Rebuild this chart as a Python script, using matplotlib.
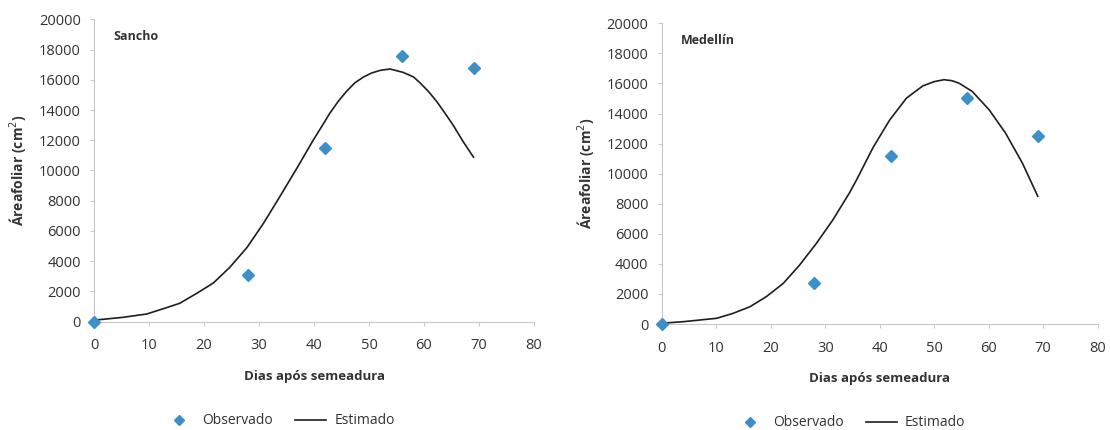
import matplotlib
matplotlib.use("Agg")
import matplotlib.pyplot as plt

plt.rcParams['font.family'] = ['Open Sans', 'DejaVu Sans']

# Observed leaf area (cm2) at sampling dates
obs_days = [0, 28, 42, 56, 69]
sancho_obs = [0, 3100, 11500, 17600, 16800]
medellin_obs = [0, 2700, 11200, 15000, 12500]

# Estimated (fitted) leaf area, Sancho
sancho_est_days = [0, 5.3, 9.6, 13.2, 15.6, 18.7, 21.7, 24.7, 27.8, 30.8, 33.8,
                   36.9, 39.9, 41.4, 42.9, 44.4, 45.9, 47.4, 49.0, 50.5, 52.0,
                   53.8, 56.2, 58.1, 59.3, 60.8, 62.3, 63.8, 65.3, 67.1, 69.0]
sancho_est = [100, 290, 510, 930, 1220, 1880, 2560, 3600, 4900, 6500, 8280,
              10160, 12030, 12910, 13800, 14570, 15230, 15790, 16185, 16450,
              16620, 16715, 16490, 16185, 15790, 15230, 14570, 13800, 13000,
              11920, 10880]

# Estimated (fitted) leaf area, Medellín
medellin_est_days = [0, 4.0, 10.1, 13.1, 16.2, 19.2, 22.3, 25.3, 28.4, 31.4,
                     34.5, 35.7, 38.8, 41.8, 44.9, 47.9, 50.0, 51.8, 53.3,
                     54.6, 57.0, 60.1, 63.1, 66.2, 69.0]
medellin_est = [50, 155, 380, 710, 1150, 1820, 2700, 3920, 5370, 6920,
                8750, 9550, 11750, 13550, 15020, 15835, 16120, 16250, 16180,
                16010, 15460, 14240, 12690, 10690, 8500]

x_ticks = [0, 10, 20, 30, 40, 50, 60, 70, 80]
y_ticks = [0, 2000, 4000, 6000, 8000, 10000, 12000, 14000, 16000, 18000, 20000]

panels = [
    ("Sancho", sancho_obs, sancho_est_days, sancho_est,
     [94 / 1110, 1 - 321.7 / 430, 440 / 1110, 302.4 / 430],
     (279 / 1110, 1 - 421 / 430)),
    ("Medellín", medellin_obs, medellin_est_days, medellin_est,
     [661.7 / 1110, 1 - 324 / 430, 436 / 1110, 300.7 / 430],
     (850 / 1110, 1 - 423 / 430)),
]

MARKER = "#3D8FC8"
TXT = "#333333"
AXC = "#c8c8c8"

fig = plt.figure(figsize=(11.1, 4.3), dpi=100)

for name, obs, est_days, est, rect, leg_pos in panels:
    ax = fig.add_axes(rect)
    ax.plot(obs_days, obs, linestyle="none", marker="D", markersize=6,
            color=MARKER, label="Observado", zorder=3, clip_on=False)
    ax.plot(est_days, est, color="#1e1e1e", linewidth=1.2, label="Estimado",
            zorder=2, solid_joinstyle="round")
    ax.set_xlim(0, 80)
    ax.set_ylim(0, 20000)
    ax.set_xticks(x_ticks)
    ax.set_yticks(y_ticks)
    for s in ("top", "right"):
        ax.spines[s].set_visible(False)
    for s in ("left", "bottom"):
        ax.spines[s].set_color(AXC)
        ax.spines[s].set_linewidth(0.8)
    ax.tick_params(axis="both", colors=AXC, labelcolor=TXT, labelsize=10.5,
                   length=3, width=0.8)
    ax.tick_params(axis="x", pad=9)
    ax.tick_params(axis="y", pad=6.5)
    ax.set_xlabel("Dias após semeadura", fontsize=9.5, fontweight="bold",
                  color=TXT, labelpad=12)
    ax.set_ylabel("Áreafoliar (cm$^2$)", fontsize=10, fontweight="bold",
                  color=TXT, labelpad=8)
    ax.text(0.045, 0.965, name, transform=ax.transAxes, fontsize=9,
            fontweight="bold", color=TXT, va="top", ha="left")
    ax.legend(loc="center", bbox_to_anchor=leg_pos,
              bbox_transform=fig.transFigure, ncol=2, frameon=False,
              fontsize=10, labelcolor=TXT, handlelength=2.2,
              columnspacing=1.6, handletextpad=0.6, markerscale=0.85)

fig.savefig("out.png", dpi=100, facecolor="white")
